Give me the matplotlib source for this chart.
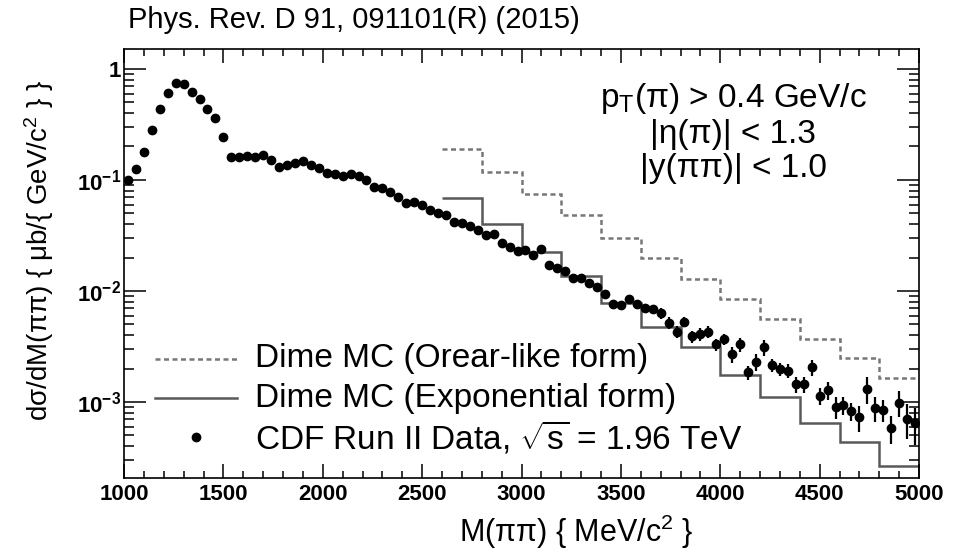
import numpy as np
import matplotlib
matplotlib.use('Agg')
import matplotlib.pyplot as plt
from matplotlib.ticker import MultipleLocator, LogLocator, NullFormatter

plt.rcParams['font.family'] = ['Liberation Sans', 'DejaVu Sans']
plt.rcParams['mathtext.fontset'] = 'custom'
plt.rcParams['mathtext.rm'] = 'Liberation Sans'
plt.rcParams['mathtext.it'] = 'Liberation Sans:italic'
plt.rcParams['mathtext.bf'] = 'Liberation Sans:bold'

# CDF data, 40 MeV bins (centres 1020 ... 4980)
mass = np.arange(1020, 5000, 40)
xsec = [0.099, 0.126, 0.177, 0.281, 0.437, 0.604, 0.753, 0.733, 0.621, 0.537,
        0.437, 0.360, 0.243, 0.161, 0.161, 0.165, 0.161, 0.168, 0.151, 0.132,
        0.137, 0.141, 0.147, 0.137, 0.127, 0.116, 0.112, 0.108, 0.112, 0.109,
        0.099, 0.0859, 0.085, 0.0774, 0.0698, 0.0621, 0.0630, 0.060, 0.054, 0.0505,
        0.0485, 0.0422, 0.0413, 0.0383, 0.0357, 0.0318, 0.0329, 0.0271, 0.0250, 0.0227,
        0.0236, 0.0210, 0.0241, 0.0172, 0.0162, 0.0151, 0.0130, 0.0132, 0.0119, 0.0109,
        0.0093, 0.0076, 0.0075, 0.0085, 0.0076, 0.0070, 0.0069, 0.0063, 0.0052, 0.0043,
        0.0053, 0.0039, 0.0041, 0.0043, 0.0033, 0.0037, 0.0027, 0.0033, 0.00185, 0.0023,
        0.0031, 0.00215, 0.00198, 0.00192, 0.00145, 0.00145, 0.00206, 0.00114, 0.00128, 0.00091,
        0.00094, 0.00083, 0.00073, 0.00132, 0.00089, 0.00085, 0.00058, 0.00099, 0.00071, 0.00065]
err_rel = [0.02, 0.02, 0.02, 0.02, 0.02, 0.02, 0.02, 0.02, 0.02, 0.02,
           0.02, 0.02, 0.02, 0.02, 0.02, 0.02, 0.02, 0.02, 0.02, 0.02,
           0.02, 0.02, 0.02, 0.02, 0.02, 0.03, 0.03, 0.03, 0.03, 0.03,
           0.03, 0.03, 0.03, 0.03, 0.03, 0.03, 0.03, 0.03, 0.03, 0.03,
           0.03, 0.03, 0.03, 0.03, 0.03, 0.03, 0.03, 0.03, 0.03, 0.03,
           0.05, 0.05, 0.05, 0.05, 0.06, 0.06, 0.06, 0.06, 0.07, 0.07,
           0.07, 0.08, 0.08, 0.08, 0.09, 0.09, 0.09, 0.11, 0.12, 0.13,
           0.11, 0.13, 0.13, 0.13, 0.12, 0.11, 0.17, 0.15, 0.15, 0.17,
           0.16, 0.13, 0.14, 0.14, 0.17, 0.17, 0.17, 0.18, 0.18, 0.23,
           0.18, 0.18, 0.26, 0.28, 0.26, 0.23, 0.28, 0.26, 0.34, 0.37]

# Dime MC, 200 MeV bins
mc_edges = [2600, 2800, 3000, 3200, 3400, 3600, 3800, 4000, 4200, 4400, 4600, 4800, 5000]
orear = [0.188, 0.117, 0.0748, 0.0488, 0.0301, 0.0199, 0.0129, 0.0084, 0.00556,
         0.00367, 0.00250, 0.00166]
expo = [0.069, 0.040, 0.0225, 0.0136, 0.00774, 0.00475, 0.00313, 0.00175, 0.0011,
        0.00065, 0.000434, 0.000264]

legend_labels = ['Dime MC (Orear-like form)', 'Dime MC (Exponential form)',
                 r'CDF Run II Data, $\sqrt{\mathrm{s}}$ = 1.96 TeV']
cuts = [r'p$_{\mathrm{T}}$(π) > 0.4 GeV/c', '|η(π)| < 1.3', '|y(ππ)| < 1.0']

xsec = np.array(xsec)
yerr = xsec * np.array(err_rel)

W, H = 959, 553
fig = plt.figure(figsize=(W / 100, H / 100), dpi=100)
ax = fig.add_axes([124 / W, 1 - 478 / H, 795 / W, 429 / H])

dash = (0, (2.0, 1.4))
c_orear, c_expo = '#777777', '#595959'
ax.stairs(orear, mc_edges, baseline=None, color=c_orear, lw=1.8, ls=dash)
ax.stairs(expo, mc_edges, baseline=None, color=c_expo, lw=1.8)
ax.errorbar(mass, xsec, yerr=yerr, fmt='o', color='k', ms=6,
            elinewidth=1.6, capsize=0)

ax.set_yscale('log')
ax.set_xlim(1000, 5000)
ax.set_ylim(2.07e-4, 1.51)

ax.set_xticks(range(1000, 5001, 500))
ax.set_xticklabels([str(v) for v in range(1000, 5001, 500)],
                   fontsize=16, fontweight='bold')
ax.xaxis.set_minor_locator(MultipleLocator(100))
ax.set_yticks([1e-3, 1e-2, 1e-1, 1])
ax.set_yticklabels([r'$\mathbf{10^{-3}}$', r'$\mathbf{10^{-2}}$',
                    r'$\mathbf{10^{-1}}$', '1'], fontsize=16, fontweight='bold')
ax.yaxis.set_minor_locator(LogLocator(base=10, subs=range(2, 10)))
ax.yaxis.set_minor_formatter(NullFormatter())

ax.tick_params(which='both', direction='in', top=True, right=True, width=1.1)
ax.tick_params(axis='x', which='major', length=10, pad=4)
ax.tick_params(axis='x', which='minor', length=5)
ax.tick_params(axis='y', which='major', length=16, pad=2)
ax.tick_params(axis='y', which='minor', length=7.5)
for s in ax.spines.values():
    s.set_linewidth(1.2)

ax.set_xlabel(r'M(ππ) { MeV/c$^{2}$ }', fontsize=22)
ax.xaxis.set_label_coords(0.569, -0.08)
ax.set_ylabel(r'dσ/dM(ππ) { μb/{ GeV/c$^{2}$ } }', fontsize=20)
ax.yaxis.set_label_coords(-0.085, 0.53)

fig.text(128 / W, 1 - 28 / H, 'Phys. Rev. D 91, 091101(R) (2015)',
         fontsize=21, va='baseline', ha='left')

# selection cuts, centred block at upper right
for txt, ypix in zip(cuts, [99, 134, 169]):
    ax.text((733 - 124) / 795, (478 - ypix) / 429, txt, transform=ax.transAxes,
            fontsize=24, ha='center', va='center')

# legend drawn by hand (ROOT TLegend look, no frame)
rows = [359, 398, 437]
x0, x1, xt = (155 - 124) / 795, (237 - 124) / 795, (255 - 124) / 795
for i, ypix in enumerate(rows):
    yf = (478 - ypix) / 429
    if i == 0:
        ax.plot([x0, x1], [yf, yf], transform=ax.transAxes, color=c_orear,
                lw=1.8, ls=dash, clip_on=False)
    elif i == 1:
        ax.plot([x0, x1], [yf, yf], transform=ax.transAxes, color=c_expo,
                lw=1.8, clip_on=False)
    else:
        ax.plot([(x0 + x1) / 2], [yf], transform=ax.transAxes, marker='o',
                color='k', ms=6, ls='none', clip_on=False)
    ax.text(xt, yf, legend_labels[i], transform=ax.transAxes, fontsize=24,
            ha='left', va='center')

fig.savefig('out.png', dpi=100)
